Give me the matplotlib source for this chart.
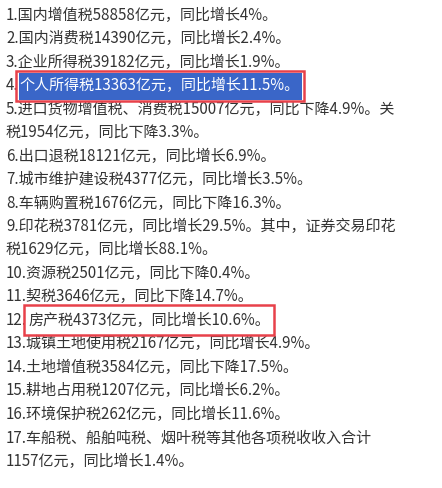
import matplotlib
matplotlib.use("Agg")
import matplotlib.pyplot as plt
from matplotlib.patches import Rectangle

plt.rcParams['font.family'] = ['Noto Sans CJK SC', 'DejaVu Sans']

lines = [
    "1.国内增值税58858亿元，同比增长4%。",
    "2.国内消费税14390亿元，同比增长2.4%。",
    "3.企业所得税39182亿元，同比增长1.9%。",
    "4.|个人所得税13363亿元，同比增长11.5%。",
    "5.进口货物增值税、消费税15007亿元，同比下降4.9%。关",
    "税1954亿元，同比下降3.3%。",
    "6.出口退税18121亿元，同比增长6.9%。",
    "7.城市维护建设税4377亿元，同比增长3.5%。",
    "8.车辆购置税1676亿元，同比下降16.3%。",
    "9.印花税3781亿元，同比增长29.5%。其中，证券交易印花",
    "税1629亿元，同比增长88.1%。",
    "10.资源税2501亿元，同比下降0.4%。",
    "11.契税3646亿元，同比下降14.7%。",
    "12.|房产税4373亿元，同比增长10.6%。",
    "13.城镇土地使用税2167亿元，同比增长4.9%。",
    "14.土地增值税3584亿元，同比下降17.5%。",
    "15.耕地占用税1207亿元，同比增长6.2%。",
    "16.环境保护税262亿元，同比增长11.6%。",
    "17.车船税、船舶吨税、烟叶税等其他各项税收收入合计",
    "1157亿元，同比增长1.4%。",
]
highlight_fill = {3}

W, H = 442, 488
fig = plt.figure(figsize=(W/100, H/100), dpi=100)
ax = fig.add_axes([0, 0, 1, 1])
ax.set_xlim(0, W); ax.set_ylim(H, 0); ax.axis('off')
fig.canvas.draw()
r = fig.canvas.get_renderer()
color = '#333333'
fs = 10.85
x0, y0, dy = 6, 15.5, 23.45
for i, s in enumerate(lines):
    y = y0 + i * dy
    if '|' in s:
        pre, post = s.split('|')
        t = ax.text(x0, y, pre, fontsize=fs, color=color, va='center', ha='left')
        bb = t.get_window_extent(r)
        xs = bb.x1 + 1
        t2 = ax.text(xs, y, post, fontsize=fs, color='white' if i in highlight_fill else color,
                     va='center', ha='left', zorder=3)
        bb2 = t2.get_window_extent(r)
        xe = bb2.x1 + 1
        if i in highlight_fill:
            ax.add_patch(Rectangle((xs - 1, y - 13), xe - xs + 2, 27, facecolor='#3a66c8', edgecolor='none', zorder=2))
        ax.add_patch(Rectangle((xs - 4, y - 15), xe - xs + 7, 30, facecolor='none', edgecolor='#e8414a', lw=1.8, zorder=4))
    else:
        ax.text(x0, y, s, fontsize=fs, color=color, va='center', ha='left')
fig.savefig('out.png', dpi=100, facecolor='white')
